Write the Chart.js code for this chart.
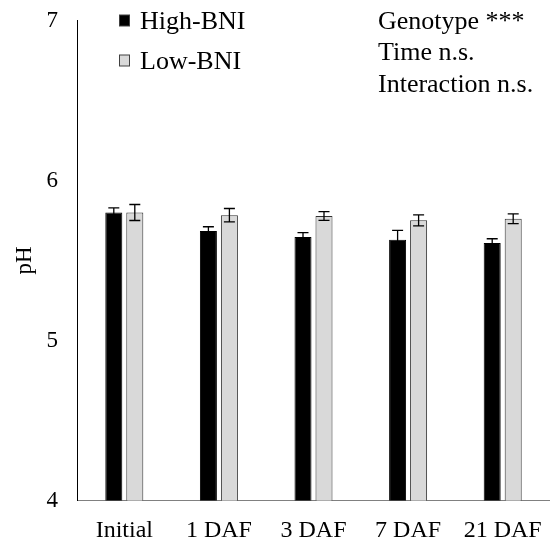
<!DOCTYPE html>
<html><head><meta charset="utf-8">
<script src="https://cdn.jsdelivr.net/npm/chart.js@4"></script>
<style>html,body{margin:0;padding:0;background:#fff}#wrap{width:550px;height:549px;position:relative}</style>
</head><body><div id="wrap"><canvas id="c" width="550" height="549"></canvas></div>
<script>
const categories = ['Initial', '1 DAF', '3 DAF', '7 DAF', '21 DAF'];
const highBNI = [5.80, 5.684, 5.647, 5.63, 5.609];
const highBNIErr = [0.029, 0.027, 0.027, 0.058, 0.027];
const lowBNI = [5.80, 5.783, 5.778, 5.751, 5.761];
const lowBNIErr = [0.05, 0.042, 0.027, 0.034, 0.03];
const yTicks = [4, 5, 6, 7];
const statsText = ['Genotype ***', 'Time n.s.', 'Interaction n.s.'];
const seriesNames = ['High-BNI', 'Low-BNI'];
const FONT = '"Liberation Serif", "Times New Roman", serif';

const errorBars = {
  id: 'errorBars',
  afterDatasetsDraw(chart) {
    const ctx = chart.ctx;
    const ys = chart.scales.y;
    chart.data.datasets.forEach((ds, di) => {
      const meta = chart.getDatasetMeta(di);
      meta.data.forEach((bar, i) => {
        const v = ds.data[i], e = ds.errors[i];
        const yTop = ys.getPixelForValue(v + e);
        const yBot = ys.getPixelForValue(v - e);
        const x = bar.x, hw = 5.5;
        ctx.save();
        ctx.strokeStyle = '#000';
        ctx.lineWidth = 1.3;
        ctx.beginPath();
        ctx.moveTo(x, yTop); ctx.lineTo(x, yBot);
        ctx.moveTo(x - hw, yTop); ctx.lineTo(x + hw, yTop);
        ctx.moveTo(x - hw, yBot); ctx.lineTo(x + hw, yBot);
        ctx.stroke();
        ctx.restore();
      });
    });
  }
};

const annotations = {
  id: 'annotations',
  afterDraw(chart) {
    const ctx = chart.ctx;
    ctx.save();
    ctx.font = '26px ' + FONT;
    ctx.fillStyle = '#000';
    ctx.textBaseline = 'alphabetic';
    ctx.textAlign = 'left';
    chart.data.datasets.forEach((ds, i) => {
      const y0 = 15 + i * 40;
      ctx.fillStyle = ds.backgroundColor;
      ctx.fillRect(119.5, y0, 10, 11);
      ctx.strokeStyle = '#404040';
      ctx.lineWidth = 1;
      ctx.strokeRect(119.5, y0, 10, 11);
      ctx.fillStyle = '#000';
      ctx.fillText(ds.label, 140, 28.5 + i * 40);
    });
    statsText.forEach((t, i) => {
      ctx.fillText(t, 378, 28.5 + i * 31.7);
    });
    ctx.restore();
  }
};

new Chart(document.getElementById('c'), {
  type: 'bar',
  data: {
    labels: categories,
    datasets: [
      { label: seriesNames[0], data: highBNI, errors: highBNIErr, backgroundColor: '#000000', borderColor: '#000000', borderWidth: 1 },
      { label: seriesNames[1], data: lowBNI, errors: lowBNIErr, backgroundColor: '#d9d9d9', borderColor: '#303030', borderWidth: 1 }
    ]
  },
  options: {
    responsive: false,
    animation: false,
    devicePixelRatio: 1,
    layout: { padding: { top: 20.5, right: 0, left: 0, bottom: 0 } },
    datasets: { bar: { categoryPercentage: 0.444, barPercentage: 0.81 } },
    plugins: { legend: { display: false }, tooltip: { enabled: false } },
    scales: {
      x: {
        grid: { display: false, drawTicks: false },
        border: { display: true, color: '#808080', width: 1 },
        ticks: { color: '#000', font: { family: FONT, size: 24 }, padding: 16, maxRotation: 0, autoSkip: false },
        afterFit(s) { s.height = 48.5; s.paddingLeft = 0; s.paddingRight = 0; }
      },
      y: {
        min: 4, max: 7,
        afterBuildTicks(s) { s.ticks = yTicks.map(v => ({ value: v })); },
        grid: { display: false, drawTicks: false },
        border: { display: true, color: '#000', width: 1 },
        ticks: { color: '#000', font: { family: FONT, size: 23 }, padding: 19 },
        title: { display: true, text: 'pH', color: '#000', font: { family: FONT, size: 23 }, padding: { top: 11, bottom: 0 } },
        afterFit(s) { s.width = 77; s.paddingTop = 0; s.paddingBottom = 0; }
      }
    }
  },
  plugins: [errorBars, annotations]
});
</script>
</body></html>
